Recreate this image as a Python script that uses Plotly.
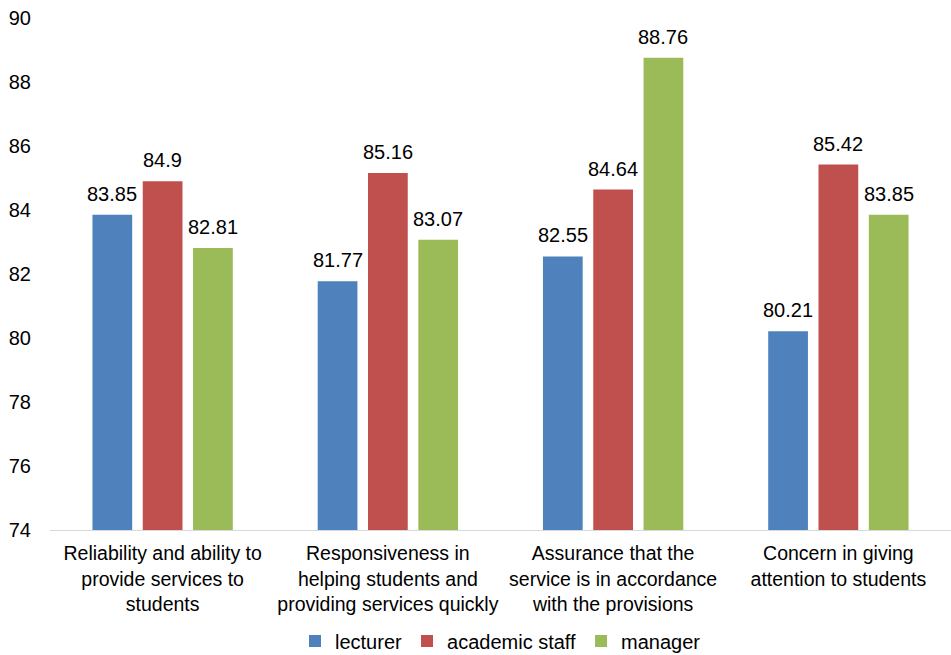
import plotly.graph_objects as go

categories = [
    "Reliability and ability to<br>provide services to<br>students",
    "Responsiveness in<br>helping students and<br>providing services quickly",
    "Assurance that the<br>service is in accordance<br>with the provisions",
    "Concern in giving<br>attention to students",
]
lecturer = [83.85, 81.77, 82.55, 80.21]
academic_staff = [84.9, 85.16, 84.64, 85.42]
manager = [82.81, 83.07, 88.76, 83.85]
series_names = ["lecturer", "academic staff", "manager"]
colors = ["#4F81BD", "#C0504D", "#9BBB59"]

BARGAP = 0.33
GROUPGAP = 0.21
FONT = "Liberation Sans, Arial, sans-serif"

fig = go.Figure()
all_series = [lecturer, academic_staff, manager]
n = len(all_series)
slot = (1 - BARGAP) / n
annotations = []
for j, (name, vals, col) in enumerate(zip(series_names, all_series, colors)):
    fig.add_trace(go.Bar(
        x=categories, y=vals, name=name, marker_color=col,
        marker_line_width=0,
    ))
    for i, v in enumerate(vals):
        annotations.append(dict(
            x=i + (j - (n - 1) / 2) * slot, y=v, xref="x", yref="y",
            text=f"{v:g}", showarrow=False, yanchor="bottom", yshift=8,
            font=dict(size=20, color="#000000", family=FONT),
        ))

fig.update_layout(
    width=951, height=655,
    barmode="group", bargap=BARGAP, bargroupgap=GROUPGAP,
    plot_bgcolor="white", paper_bgcolor="white",
    font=dict(family=FONT, size=20, color="#000000"),
    margin=dict(l=50, r=0, t=18, b=125, autoexpand=False),
    showlegend=True,
    legend=dict(orientation="h", x=0.5, xanchor="center",
                yref="container", y=(655 - 641) / 655, yanchor="middle",
                font=dict(size=20), traceorder="normal"),
    xaxis=dict(showline=True, linecolor="#D9D9D9", linewidth=1, ticks="",
               tickfont=dict(size=19.5), ticklabelstandoff=6),
    yaxis=dict(range=[74, 90], dtick=2, showgrid=False, zeroline=False, showline=False,
               ticks="", tickfont=dict(size=20), ticklabelstandoff=18),
    annotations=annotations,
)
fig.write_html("out.html", post_script="document.body.style.margin='0';",
               config={"displayModeBar": False})
